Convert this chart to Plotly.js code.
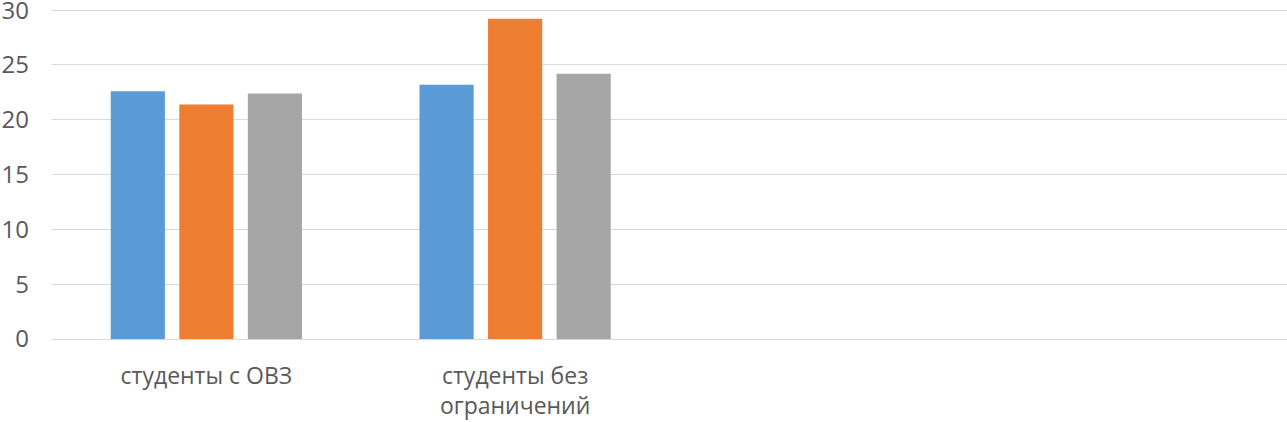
<!DOCTYPE html>
<html>
<head>
<meta charset="utf-8">
<script src="https://cdn.plot.ly/plotly-3.0.1.min.js"></script>
<style>
  html, body { margin: 0; padding: 0; background: #fff; }
  #myPlot { width: 1287px; height: 422px; }
</style>
</head>
<body>
<div id="myPlot"></div>
<script>
// Categories and series values
const categories = ['студенты с ОВЗ', 'студенты без<br>ограничений'];
const series1 = [22.6, 23.2];
const series2 = [21.4, 29.2];
const series3 = [22.4, 24.2];
const yTicks = [0, 5, 10, 15, 20, 25, 30];

const colors = ['#5b9bd5', '#ed7d31', '#a5a5a5'];

var data = [series1, series2, series3].map(function(vals, i) {
  return {
    x: categories,
    y: vals,
    type: 'bar',
    name: 'Ряд ' + (i + 1),
    marker: {color: colors[i]},
    hoverinfo: 'y'
  };
});

var layout = {
  width: 1287,
  height: 422,
  margin: {l: 52, r: 0, t: 9, b: 83},
  paper_bgcolor: '#ffffff',
  plot_bgcolor: '#ffffff',
  showlegend: false,
  barmode: 'group',
  bargap: 0.334,
  bargroupgap: 0.21,
  font: {family: '"Open Sans", "Noto Sans", sans-serif', color: '#595959'},
  xaxis: {
    type: 'category',
    range: [-0.5, 3.5],
    showgrid: false,
    zeroline: false,
    showline: false,
    ticks: '',
    tickfont: {size: 23, color: '#595959'},
    ticklabelstandoff: 21
  },
  yaxis: {
    range: [0, 30.1],
    tickvals: yTicks,
    showgrid: true,
    gridcolor: '#d9d9d9',
    gridwidth: 1,
    zeroline: true,
    zerolinecolor: '#d9d9d9',
    zerolinewidth: 1,
    showline: false,
    ticks: '',
    tickfont: {size: 24, color: '#595959'},
    ticklabelstandoff: 22,
    ticklabeloverflow: 'allow'
  }
};

Plotly.newPlot('myPlot', data, layout, {displayModeBar: false, staticPlot: true});
</script>
</body>
</html>
